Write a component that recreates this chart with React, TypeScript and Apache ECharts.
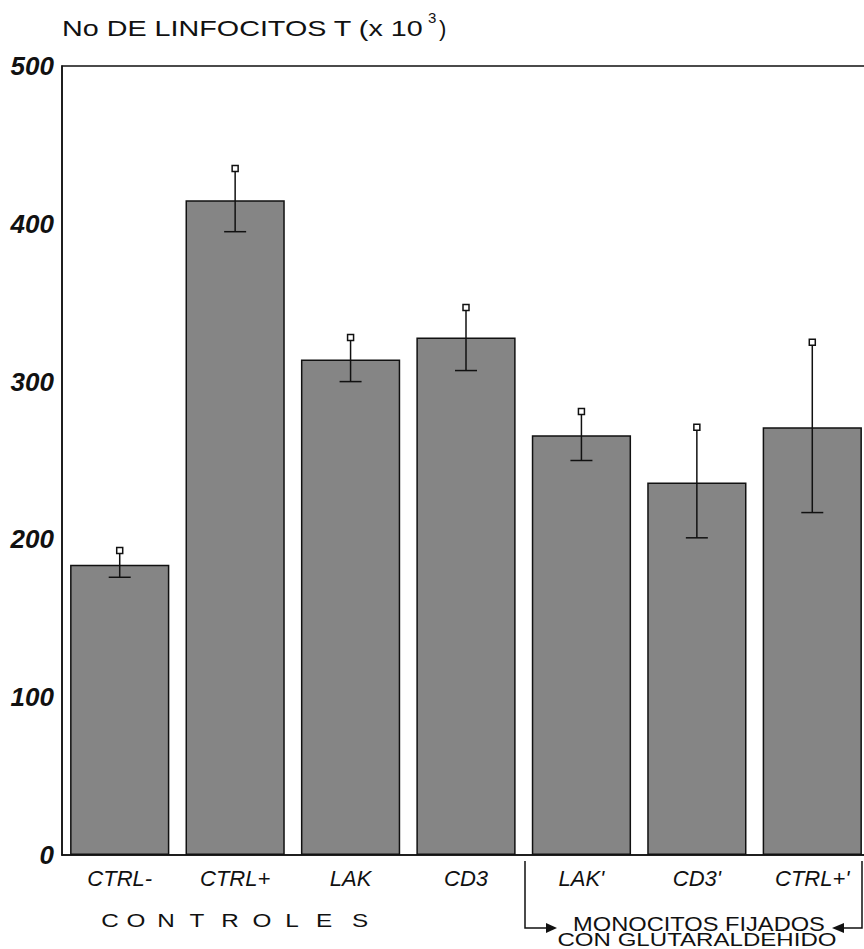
import React, { useEffect, useRef } from "react";
import * as echarts from "echarts";

const categories = ["CTRL-", "CTRL+", "LAK", "CD3", "LAK'", "CD3'", "CTRL+'"];
const means = [184, 415, 314, 328, 266, 236, 271];
const errLow = [176, 395, 300, 307, 250, 201, 217];
const errHigh = [193, 435, 328, 347, 281, 271, 325];
const yTicks = { min: 0, max: 500, interval: 100 };
const titleMain = "No DE LINFOCITOS T (x 10";
const titleSup = "3";
const groupLeftLabel = "CONTROLES";
const groupRightLabel1 = "MONOCITOS FIJADOS";
const groupRightLabel2 = "CON GLUTARALDEHIDO";

const FAMILY = "Liberation Sans";

function measure(text: string, size: number): number {
  const c = document.createElement("canvas").getContext("2d");
  if (!c) return text.length * size * 0.6;
  c.font = `${size}px "${FAMILY}"`;
  return c.measureText(text).width;
}

export default function App() {
  const ref = useRef<HTMLDivElement>(null);
  useEffect(() => {
    if (!ref.current) return;
    const chart = echarts.init(ref.current, null, { renderer: "svg" });
    const titleW = measure(titleMain, 22);
    const titleScale = (424 - 62) / titleW;
    const r1Scale = (825 - 573) / measure(groupRightLabel1, 20);
    const r2Scale = (837 - 558) / measure(groupRightLabel2, 18);
    const letterX = [110, 136, 166, 197, 230, 262, 292, 324, 360];
    const letters = groupLeftLabel.split("").map((ch, i) => ({
      type: "text",
      x: letterX[i],
      y: 921,
      scaleX: 1.35,
      style: {
        text: ch,
        fontSize: 18,
        fontFamily: FAMILY,
        fill: "#111",
        align: "center",
        verticalAlign: "middle",
      },
    }));
    const option: any = {
      animation: false,
      backgroundColor: "#fff",
      grid: {
        left: 62,
        top: 66,
        right: 2,
        bottom: 94,
        show: true,
        borderColor: "#111",
        borderWidth: 1.5,
        backgroundColor: "transparent",
      },
      xAxis: {
        type: "category",
        data: categories,
        axisLine: { show: true, lineStyle: { color: "#111", width: 1.5 } },
        axisTick: { show: false },
        axisLabel: {
          color: "#111",
          fontStyle: "italic",
          fontSize: 22,
          fontFamily: FAMILY,
          margin: 12,
        },
      },
      yAxis: {
        type: "value",
        min: yTicks.min,
        max: yTicks.max,
        interval: yTicks.interval,
        axisLine: { show: true, lineStyle: { color: "#111", width: 1.5 } },
        axisTick: { show: false },
        splitLine: { show: false },
        axisLabel: {
          color: "#111",
          fontStyle: "italic",
          fontWeight: "bold",
          fontSize: 26,
          fontFamily: FAMILY,
          margin: 8,
        },
      },
      series: [
        {
          type: "bar",
          data: means,
          barCategoryGap: "14%",
          itemStyle: {
            color: "#858585",
            borderColor: "#111",
            borderWidth: 1.5,
          },
          z: 2,
        },
        {
          type: "custom",
          z: 5,
          data: categories.map((_, i) => [i, errLow[i], errHigh[i]]),
          encode: { x: 0, y: [1, 2] },
          renderItem: (params: any, api: any) => {
            const i = api.value(0);
            const lo = api.coord([i, api.value(1)]);
            const hi = api.coord([i, api.value(2)]);
            return {
              type: "group",
              children: [
                {
                  type: "line",
                  shape: { x1: hi[0], y1: hi[1], x2: lo[0], y2: lo[1] },
                  style: { stroke: "#111", lineWidth: 1.5 },
                },
                {
                  type: "line",
                  shape: { x1: lo[0] - 11, y1: lo[1], x2: lo[0] + 11, y2: lo[1] },
                  style: { stroke: "#111", lineWidth: 1.5 },
                },
                {
                  type: "rect",
                  shape: { x: hi[0] - 3, y: hi[1] - 3, width: 6, height: 6 },
                  style: { fill: "#fff", stroke: "#111", lineWidth: 1.5 },
                },
              ],
            };
          },
        },
      ],
      graphic: [
        {
          type: "text",
          x: 62,
          y: 28,
          scaleX: titleScale,
          style: {
            text: titleMain,
            fontSize: 22,
            fontFamily: FAMILY,
            fill: "#111",
            align: "left",
            verticalAlign: "middle",
          },
        },
        {
          type: "text",
          x: 428,
          y: 17,
          style: {
            text: titleSup,
            fontSize: 15,
            fontFamily: FAMILY,
            fill: "#111",
            align: "left",
            verticalAlign: "middle",
          },
        },
        {
          type: "text",
          x: 439,
          y: 28,
          style: {
            text: ")",
            fontSize: 22,
            fontFamily: FAMILY,
            fill: "#111",
            align: "left",
            verticalAlign: "middle",
          },
        },
        ...letters,
        {
          type: "polyline",
          shape: { points: [[525, 861], [525, 928], [548, 928]] },
          style: { stroke: "#111", lineWidth: 1.5, fill: "none" },
        },
        {
          type: "polygon",
          shape: { points: [[546, 923], [557, 928], [546, 933]] },
          style: { fill: "#111" },
        },
        {
          type: "polyline",
          shape: { points: [[862, 861], [862, 928], [842, 928]] },
          style: { stroke: "#111", lineWidth: 1.5, fill: "none" },
        },
        {
          type: "polygon",
          shape: { points: [[844, 923], [832, 928], [844, 933]] },
          style: { fill: "#111" },
        },
        {
          type: "text",
          x: 699,
          y: 924,
          scaleX: r1Scale,
          style: {
            text: groupRightLabel1,
            fontSize: 20,
            lineHeight: 17,
            fontFamily: FAMILY,
            fill: "#111",
            align: "center",
            verticalAlign: "middle",
          },
        },
        {
          type: "text",
          x: 697,
          y: 940,
          scaleX: r2Scale,
          style: {
            text: groupRightLabel2,
            fontSize: 18,
            lineHeight: 14,
            fontFamily: FAMILY,
            fill: "#111",
            align: "center",
            verticalAlign: "middle",
          },
        },
      ],
    };
    chart.setOption(option);
    return () => chart.dispose();
  }, []);
  return (
    <div
      style={{
        position: "absolute",
        left: 0,
        top: 0,
        width: 864,
        height: 949,
        overflow: "hidden",
        background: "#fff",
      }}
    >
      <div ref={ref} style={{ width: 872, height: 949 }} />
    </div>
  );
}
